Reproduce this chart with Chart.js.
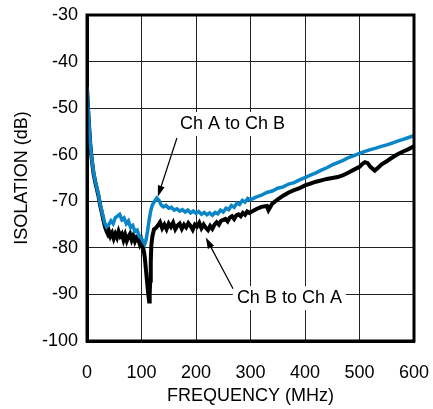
<!DOCTYPE html>
<html>
<head>
<meta charset="utf-8">
<script src="https://cdn.jsdelivr.net/npm/chart.js@4.4.1/dist/chart.umd.min.js"></script>
<style>
  html, body { margin: 0; padding: 0; background: #fff; }
  #wrap { width: 433px; height: 409px; }
</style>
</head>
<body>
<div id="wrap"><canvas id="isoChart" width="433" height="409"></canvas></div>
<script>
// Ch A to Ch B (blue trace)
var freqA = [0, 2, 4, 6, 8, 10, 12, 15, 18, 21, 24, 27, 30, 33, 36, 40, 44, 48, 52, 56,
  60, 64, 68, 72, 76, 80, 84, 88, 92, 96, 100, 104, 106, 108, 111, 114, 117, 120, 124, 128,
  132, 136, 140, 145, 150, 155, 160, 165, 170, 175, 180, 185, 190, 195, 200, 205, 210, 215, 220, 225,
  230, 235, 240, 245, 250, 255, 260, 265, 270, 275, 280, 285, 290, 295, 300, 310, 320, 330, 340, 350,
  360, 370, 380, 390, 400, 410, 420, 430, 440, 450, 460, 470, 480, 490, 500, 510, 520, 530, 540, 550,
  560, 570, 580, 590, 600];
var isoA = [-45.5, -50, -54, -57.5, -60, -62, -63.8, -65.5, -67, -68.5, -70.5, -72, -73.5, -74.8, -75.5, -75, -74.2, -74.8, -73.5, -73.2,
  -72.8, -74, -73.6, -74.8, -74.2, -75.6, -75.2, -76.5, -76.2, -77.5, -78, -78.8, -79.2, -78.5, -76.5, -74, -72, -70.8, -70, -69.3,
  -69.8, -70.8, -71.2, -70.9, -71.5, -71.3, -71.9, -71.6, -72.1, -71.8, -72.3, -71.9, -72.5, -72.1, -72.6, -72.2, -72.8, -72.4, -72.9, -72.5,
  -73, -72.4, -72.7, -71.9, -72.3, -71.5, -71.8, -70.9, -71.3, -70.4, -70.7, -69.8, -70.2, -69.4, -69.7, -69.1, -68.7, -68.1, -67.8, -67.2,
  -66.9, -66.3, -66, -65.4, -64.9, -64.4, -63.9, -63.3, -62.8, -62.2, -61.7, -61.2, -60.6, -60.2, -59.7, -59.3, -58.9, -58.6, -58.2, -57.9,
  -57.5, -57.1, -56.7, -56.3, -55.9];

// Ch B to Ch A (black trace)
var freqB = [0, 2, 4, 6, 8, 10, 12, 15, 18, 21, 24, 27, 30, 33, 36, 38, 40, 43, 46, 49,
  52, 55, 58, 61, 64, 67, 70, 73, 76, 79, 82, 85, 88, 91, 94, 97, 100, 102, 104, 106,
  108, 110, 112, 114, 115, 116, 117, 118, 120, 123, 126, 130, 134, 138, 142, 146, 150, 154, 158, 162,
  166, 170, 174, 178, 182, 186, 190, 194, 198, 202, 206, 210, 214, 218, 222, 226, 230, 234, 238, 242,
  246, 250, 254, 258, 262, 266, 270, 274, 278, 282, 286, 290, 294, 298, 310, 320, 330, 333, 340, 350,
  360, 370, 380, 390, 400, 410, 420, 430, 440, 450, 460, 470, 480, 490, 500, 505, 510, 515, 520, 528,
  535, 540, 550, 560, 570, 580, 590, 600];
var isoB = [-45.8, -50.2, -54.2, -57.7, -60.2, -62.2, -64, -65.8, -67.3, -68.8, -70.8, -72.3, -74, -75.5, -76.5, -77, -76.3, -77.5, -76.8, -78,
  -77, -77.8, -76.5, -77.5, -77, -78.3, -77.2, -78.5, -77.6, -77, -78.3, -77.4, -78.6, -77.8, -78.2, -79.3, -78.5, -79.6, -80.5, -82,
  -84.5, -87, -89.5, -91.5, -90, -87, -83, -79.5, -77.5, -76, -75.8, -75.2, -74.5, -75.8, -75, -76, -74.8, -75.5, -74.6, -76,
  -75.2, -74.8, -75.9, -75, -75.6, -74.7, -75.3, -76.1, -75, -75.4, -74.6, -75.8, -75, -75.7, -76.2, -75.3, -75.9, -75, -74.5, -75,
  -74.2, -74, -73.8, -74.3, -73.5, -73.2, -73.8, -73, -72.8, -73.2, -72.5, -72.9, -72.2, -72.5, -71.7, -71.2, -71, -71.9, -70.5, -69.6,
  -68.8, -68.1, -67.6, -67.2, -66.6, -66.2, -65.8, -65.5, -65.2, -65, -64.8, -64.4, -63.8, -63.2, -62.6, -62, -61.6, -61.8, -62.6, -63.4,
  -62.7, -62.1, -61.4, -60.6, -59.9, -59.3, -58.8, -58.2];

var xTicks = [0, 100, 200, 300, 400, 500, 600];
var yTicks = [-100, -90, -80, -70, -60, -50, -40, -30];

var FONT = "'Liberation Sans', Arial, sans-serif";

function toPoints(xs, ys) {
  return xs.map(function (x, i) { return { x: x, y: ys[i] }; });
}

// callouts: text box (left, middle in data units) and arrow from -> to
var callouts = [
  { text: "Ch A to Ch B", x: 170.5, y: -53.4, from: [165, -56.4], to: [130, -69.0] },
  { text: "Ch B to Ch A", x: 275, y: -90.8, from: [268, -88.8], to: [218, -77.8] }
];

var calloutPlugin = {
  id: "callouts",
  afterDatasetsDraw: function (chart) {
    var ctx = chart.ctx;
    var xs = chart.scales.x, ys = chart.scales.y;
    var area = chart.chartArea;
    ctx.save();
    // frame
    ctx.strokeStyle = "#000";
    ctx.lineWidth = 3;
    ctx.strokeRect(area.left, area.top, area.right - area.left, area.bottom - area.top);

    ctx.font = "18px " + FONT;
    ctx.textBaseline = "middle";
    ctx.textAlign = "left";
    callouts.forEach(function (c) {
      var px = xs.getPixelForValue(c.x), py = ys.getPixelForValue(c.y);
      var w = ctx.measureText(c.text).width;
      ctx.fillStyle = "#fff";
      ctx.fillRect(px - 4, py - 12, w + 8, 24);
      ctx.fillStyle = "#000";
      ctx.fillText(c.text, px, py);

      var x1 = xs.getPixelForValue(c.from[0]), y1 = ys.getPixelForValue(c.from[1]);
      var x2 = xs.getPixelForValue(c.to[0]), y2 = ys.getPixelForValue(c.to[1]);
      var ang = Math.atan2(y2 - y1, x2 - x1);
      var len = 11, half = 3.5;
      ctx.strokeStyle = "#000";
      ctx.lineWidth = 1.2;
      ctx.beginPath();
      ctx.moveTo(x1, y1);
      ctx.lineTo(x2 - Math.cos(ang) * len * 0.8, y2 - Math.sin(ang) * len * 0.8);
      ctx.stroke();
      ctx.beginPath();
      ctx.moveTo(x2, y2);
      ctx.lineTo(x2 - Math.cos(ang) * len - Math.sin(ang) * half, y2 - Math.sin(ang) * len + Math.cos(ang) * half);
      ctx.lineTo(x2 - Math.cos(ang) * len + Math.sin(ang) * half, y2 - Math.sin(ang) * len - Math.cos(ang) * half);
      ctx.closePath();
      ctx.fillStyle = "#000";
      ctx.fill();
    });
    ctx.restore();
  }
};

var ctx = document.getElementById("isoChart");
var isoChart = new Chart(ctx, {
  type: "line",
  data: {
    datasets: [
      {
        label: "Ch A to Ch B",
        data: toPoints(freqA, isoA),
        borderColor: "#0a86c8",
        borderWidth: 3.5,
        pointRadius: 0,
        tension: 0
      },
      {
        label: "Ch B to Ch A",
        data: toPoints(freqB, isoB),
        borderColor: "#000",
        borderWidth: 4,
        pointRadius: 0,
        tension: 0
      }
    ]
  },
  options: {
    responsive: false,
    animation: false,
    layout: { padding: { left: 0, top: 15, right: 19, bottom: 0 } },
    plugins: { legend: { display: false }, tooltip: { enabled: false } },
    scales: {
      x: {
        type: "linear",
        min: 0,
        max: 600,
        afterBuildTicks: function (s) { s.ticks = xTicks.map(function (v) { return { value: v }; }); },
        afterFit: function (s) { s.height = 68; s.paddingLeft = 0; s.paddingRight = 0; },
        grid: { color: "#222", lineWidth: 1, drawTicks: false },
        border: { display: true, color: "#000", width: 3 },
        ticks: { color: "#000", font: { family: FONT, size: 18 }, padding: 21, maxRotation: 0 },
        title: { display: true, text: "FREQUENCY (MHz)", color: "#000", font: { family: FONT, size: 18 }, padding: { top: 0, bottom: 2 } }
      },
      y: {
        min: -100,
        max: -30,
        afterBuildTicks: function (s) { s.ticks = yTicks.map(function (v) { return { value: v }; }); },
        afterFit: function (s) { s.width = 87; s.paddingTop = 0; s.paddingBottom = 0; },
        grid: { color: "#222", lineWidth: 1, drawTicks: false },
        border: { display: true, color: "#000", width: 3 },
        ticks: { color: "#000", font: { family: FONT, size: 18 }, padding: 9 },
        title: { display: true, text: "ISOLATION (dB)", color: "#000", font: { family: FONT, size: 18 }, padding: { top: 11, bottom: 0 } }
      }
    }
  },
  plugins: [calloutPlugin]
});
</script>
</body>
</html>
